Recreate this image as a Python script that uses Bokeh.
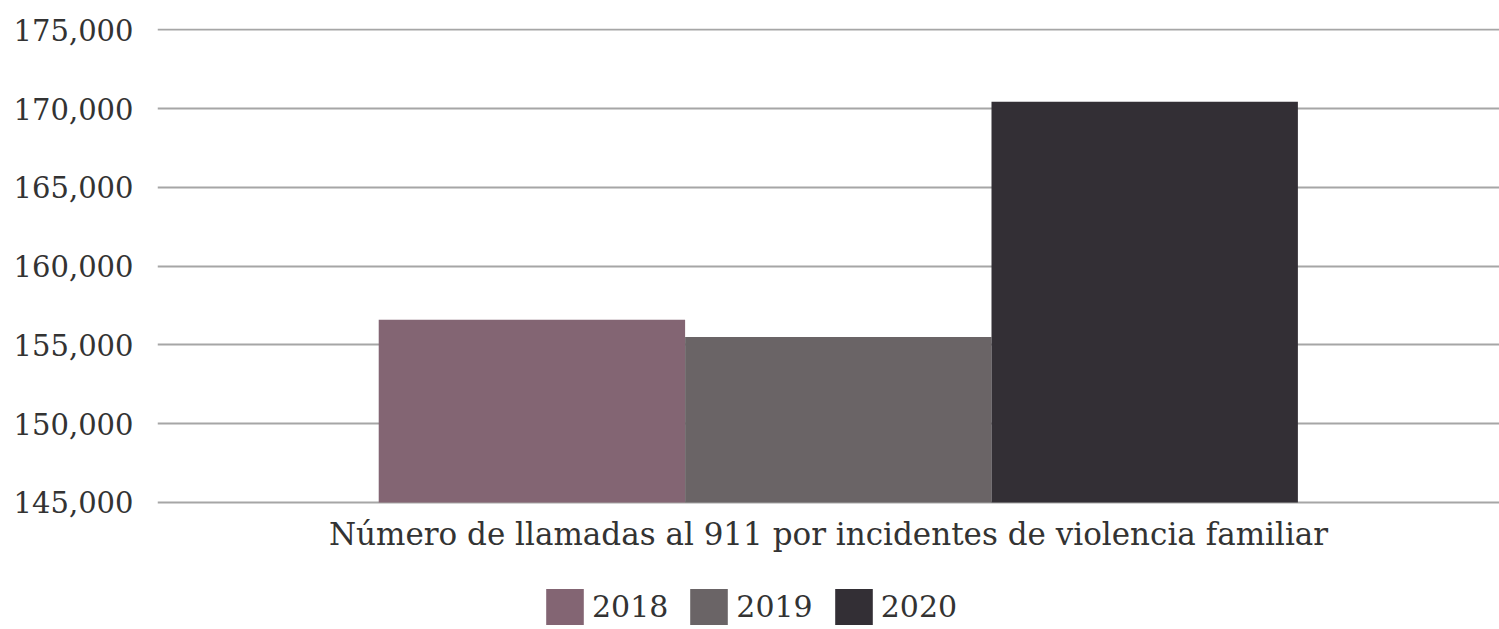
from bokeh.plotting import figure
from bokeh.models import (Range1d, FixedTicker, Legend, LegendItem, NumeralTickFormatter,
                          ColumnDataSource, Label)
from bokeh.embed import file_html
from bokeh.resources import INLINE

# Data
years = ["2018", "2019", "2020"]
calls = [156600, 155500, 170430]
colors = ["#836573", "#6a6466", "#332f35"]
category_label = "Número de llamadas al 911 por incidentes de violencia familiar"
y_ticks = [145000, 150000, 155000, 160000, 165000, 170000, 175000]
baseline = 145000

FONT = "DejaVu Serif"
TXT = "#333333"

# The plot frame is extended below the axis baseline so that the category
# label and the legend live inside it (below the 145,000 gridline).
p = figure(width=1499, height=629, output_backend="svg", toolbar_location=None,
           x_range=Range1d(-1.222, 3.158), y_range=Range1d(136940, 175080),
           min_border_left=157, min_border_right=0, min_border_top=28, min_border_bottom=0)
p.outline_line_color = None
p.background_fill_color = "white"
p.border_fill_color = "white"

renderers = []
for i, (yr, val, col) in enumerate(zip(years, calls, colors)):
    src = ColumnDataSource(dict(x=[i], top=[val]))
    r = p.vbar(x="x", top="top", bottom=baseline, width=1.0, source=src,
               fill_color=col, line_color=None)
    renderers.append(r)

# Y axis
p.yaxis.ticker = FixedTicker(ticks=y_ticks)
p.yaxis.formatter = NumeralTickFormatter(format="0,0")
p.yaxis.axis_line_color = None
p.yaxis.major_tick_line_color = None
p.yaxis.minor_tick_line_color = None
p.yaxis.major_tick_out = 0
p.yaxis.major_tick_in = 0
p.yaxis.major_label_standoff = 24
p.yaxis.major_label_text_font = FONT
p.yaxis.major_label_text_font_size = "29px"
p.yaxis.major_label_text_color = TXT

# X axis hidden; category label drawn under the bars
p.xaxis.visible = False
p.add_layout(Label(x=0.968, y=143020, text=category_label, text_align="center",
                   text_baseline="middle", text_font=FONT, text_font_size="31px",
                   text_color=TXT))

# Grid
p.xgrid.grid_line_color = None
p.ygrid.grid_line_color = "#a6a6a6"
p.ygrid.grid_line_width = 2

# Legend
items = [LegendItem(label=yr, renderers=[r]) for yr, r in zip(years, renderers)]
legend = Legend(items=items, orientation="horizontal", location=(384, 0),
                glyph_width=47, glyph_height=45, label_height=45,
                label_standoff=4, spacing=17, padding=0, margin=0,
                border_line_color=None, background_fill_alpha=0,
                label_text_font=FONT, label_text_font_size="30px",
                label_text_color=TXT)
p.add_layout(legend, "center")

open("out.html", "w").write(file_html(p, INLINE))
